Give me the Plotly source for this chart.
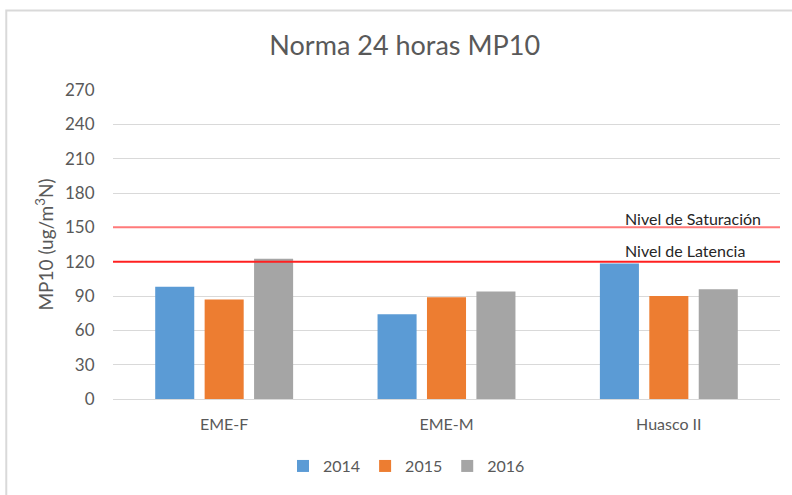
import plotly.graph_objects as go

categories = ["EME-F", "EME-M", "Huasco II"]
years = ["2014", "2015", "2016"]
values_2014 = [98, 74, 118.5]
values_2015 = [87, 89, 90]
values_2016 = [122.5, 94, 96]
colors = ["#5B9BD5", "#ED7D31", "#A5A5A5"]
tick_vals = [0, 30, 60, 90, 120, 150, 180, 210, 240, 270]
saturacion = 150
latencia = 120

FONT = "Lato"
TXT = "#595959"

fig = go.Figure()
for name, vals, col in zip(years, [values_2014, values_2015, values_2016], colors):
    fig.add_trace(go.Bar(name=name, x=categories, y=vals, marker=dict(color=col, line=dict(width=0))))

fig.add_shape(type="line", xref="paper", yref="y", x0=0, x1=1, y0=saturacion, y1=saturacion,
              line=dict(color="#FF7A7A", width=2))
fig.add_shape(type="line", xref="paper", yref="y", x0=0, x1=1, y0=latencia, y1=latencia,
              line=dict(color="#FF2020", width=2))
fig.add_shape(type="rect", xref="paper", yref="paper", x0=-0.16, x1=1.05, y0=-0.33, y1=1.257,
              line=dict(color="#D9D9D9", width=2), layer="below")

fig.add_annotation(text="Nivel de Saturación", xref="paper", yref="y", x=0.765, y=157.5,
                   xanchor="left", yanchor="middle", showarrow=False,
                   font=dict(family=FONT, size=16, color="#262626"))
fig.add_annotation(text="Nivel de Latencia", xref="paper", yref="y", x=0.765, y=129.5,
                   xanchor="left", yanchor="middle", showarrow=False,
                   font=dict(family=FONT, size=16, color="#262626"))

fig.update_layout(
    width=792, height=495,
    margin=dict(l=113, r=12, t=90, b=96),
    paper_bgcolor="white", plot_bgcolor="white",
    font=dict(family=FONT, color=TXT),
    title=dict(text="Norma 24 horas MP10", x=0.511, xanchor="center", y=0.907, yanchor="middle",
               font=dict(family=FONT, size=27, color=TXT)),
    barmode="group", bargap=0.333, bargroupgap=0.21,
    legend=dict(orientation="h", x=0.44, xanchor="center", y=-0.217, yanchor="middle",
                font=dict(family=FONT, size=16, color=TXT), itemwidth=30, traceorder="normal"),
    xaxis=dict(showgrid=False, showline=True, linecolor="#D9D9D9", linewidth=1,
               ticks="outside", ticklen=11, tickcolor="rgba(0,0,0,0)",
               tickfont=dict(family=FONT, size=16, color=TXT)),
    yaxis=dict(range=[0, 270], tickvals=tick_vals, showgrid=True, gridcolor="#D9D9D9", gridwidth=1,
               zeroline=False, ticks="outside", ticklen=14, tickcolor="rgba(0,0,0,0)",
               tickfont=dict(family=FONT, size=17, color=TXT),
               title=dict(text="MP10 (ug/m<sup>3</sup>N)", standoff=6,
                          font=dict(family=FONT, size=19, color=TXT))),
)

fig.write_html("out.html", config={"displayModeBar": False},
               post_script="document.body.style.margin='0';")
